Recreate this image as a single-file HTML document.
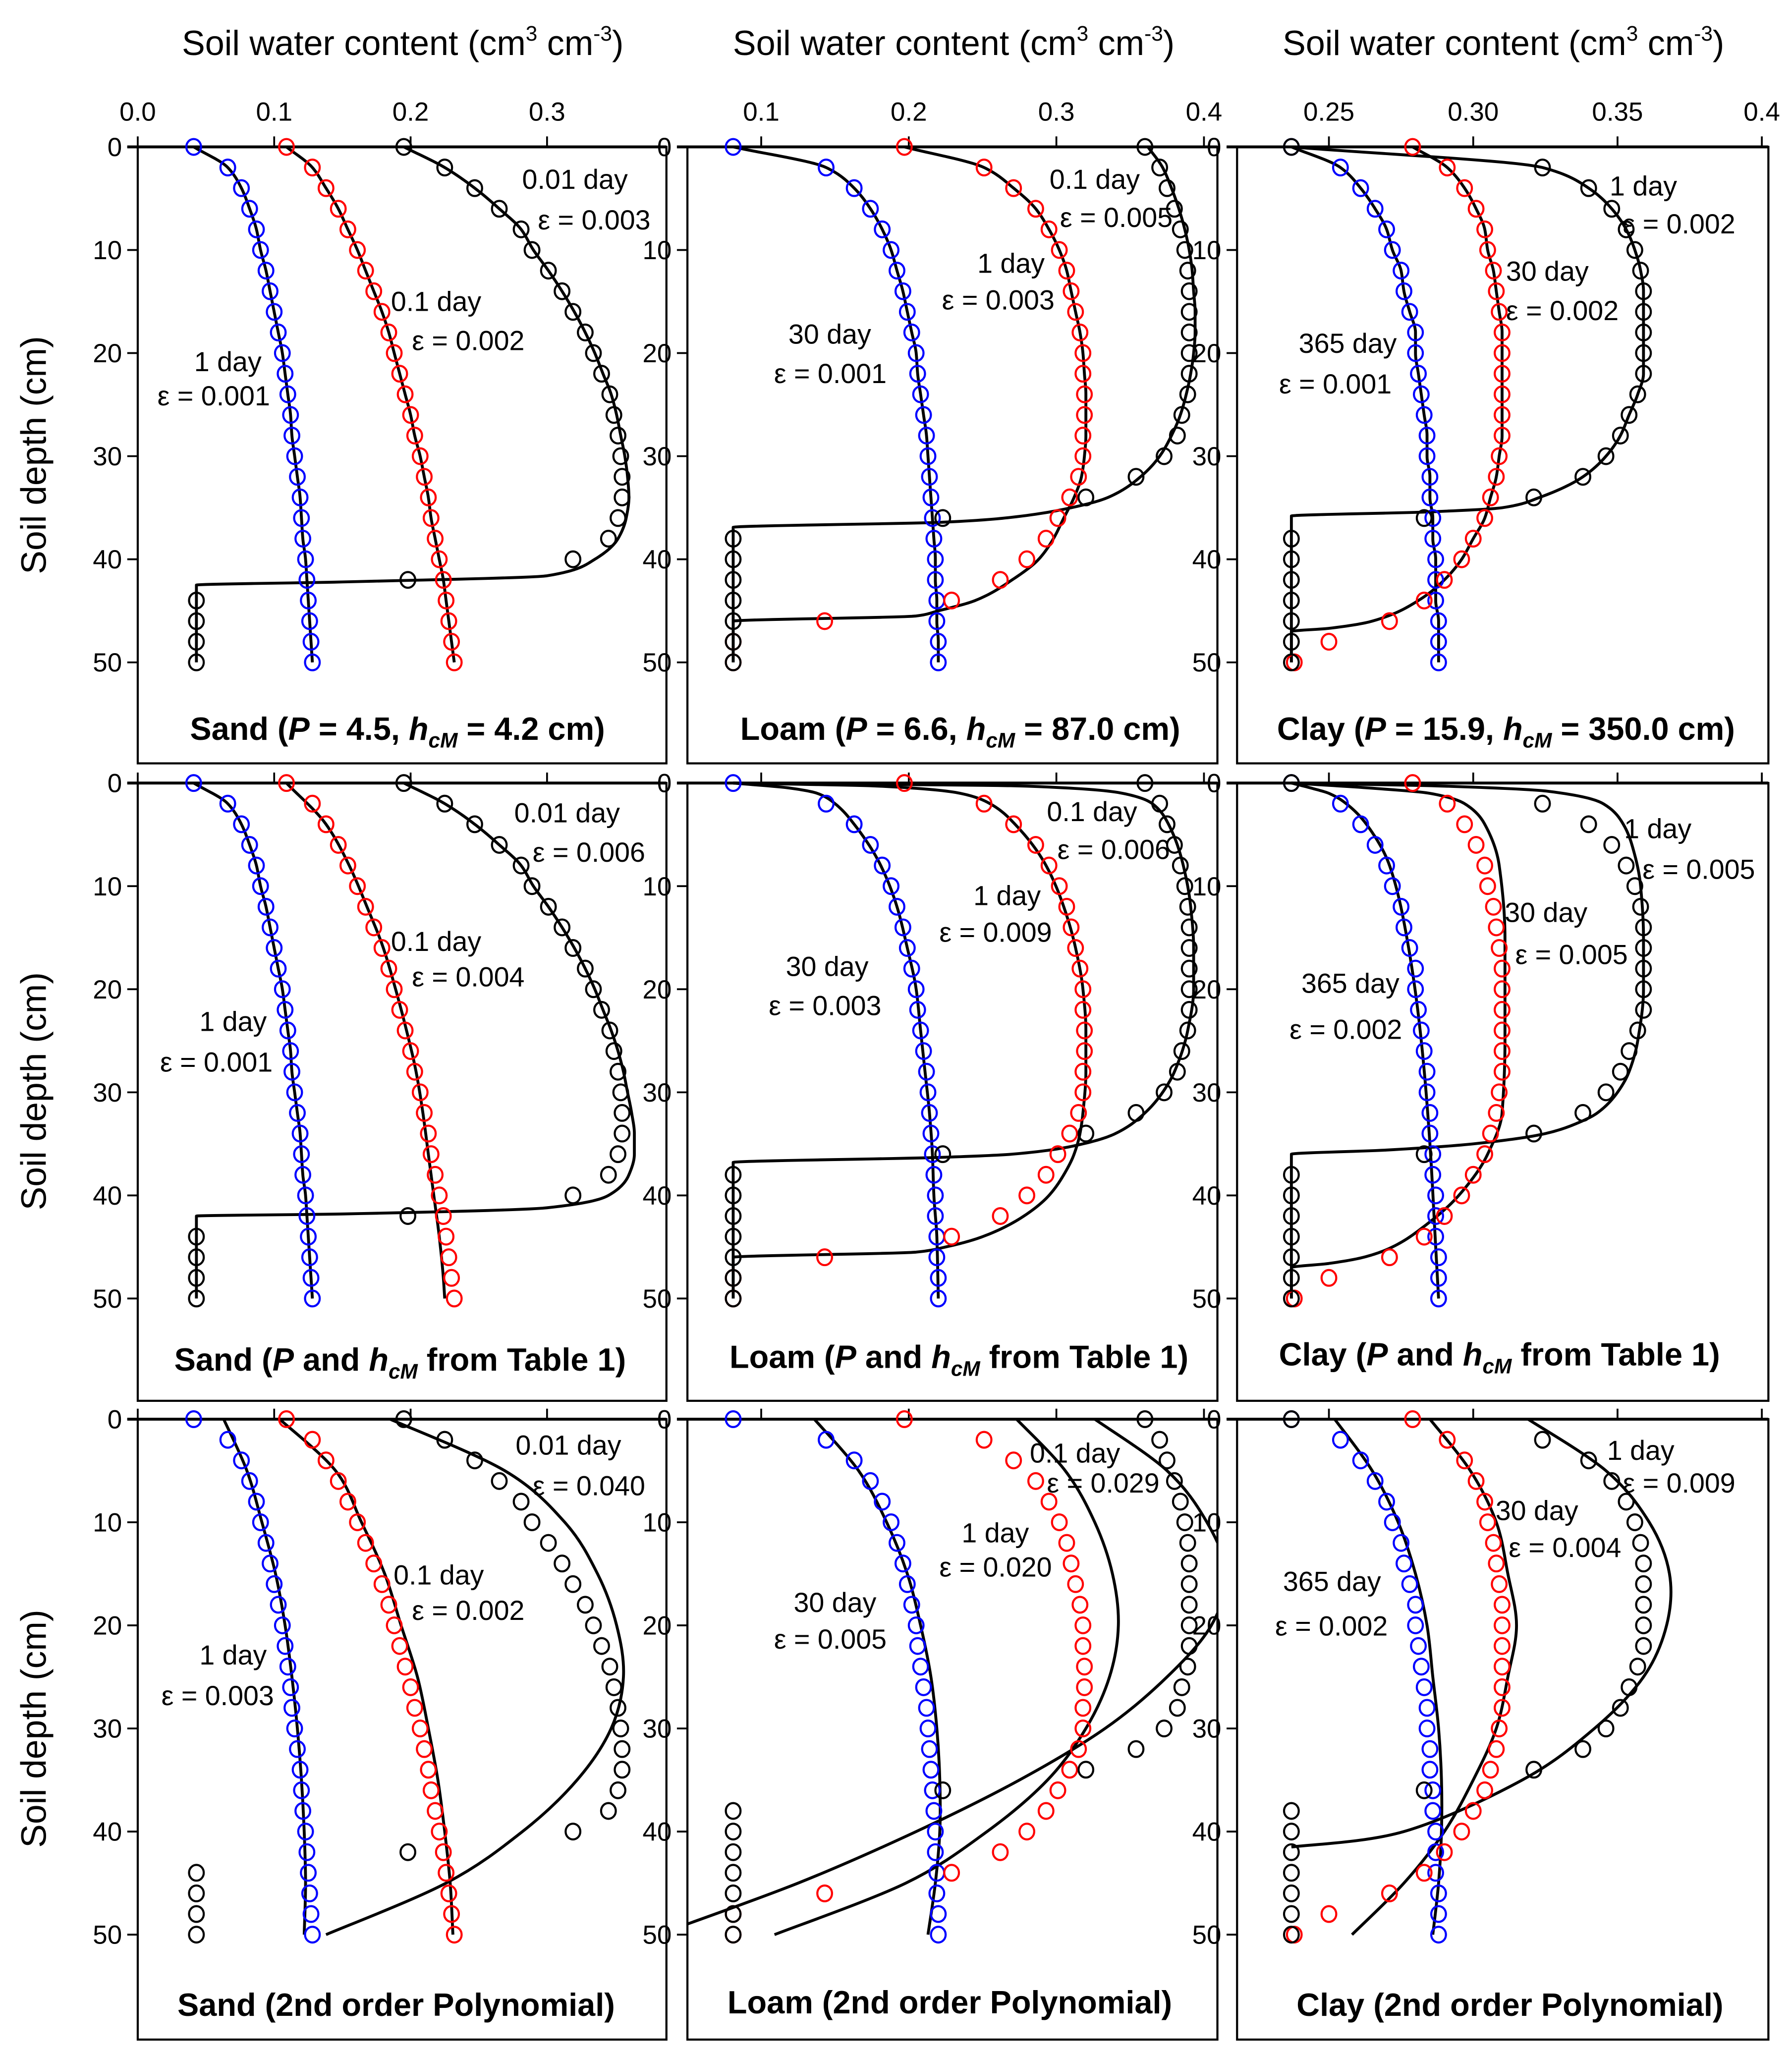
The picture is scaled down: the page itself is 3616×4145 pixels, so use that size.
<!DOCTYPE html>
<html><head><meta charset="utf-8"><style>
html,body{margin:0;padding:0;background:#fff}
svg{display:block}
text{font-family:"Liberation Sans",Arial,sans-serif;fill:#000}
</style></head><body>
<svg id="chart" width="3616" height="4145" viewBox="0 0 1366 1566" preserveAspectRatio="none" xmlns="http://www.w3.org/2000/svg"></svg>
<script>
// ---- observed data (depth in cm, theta in cm3/cm3) ----
const depths = [0,2,4,6,8,10,12,14,16,18,20,22,24,26,28,30,32,34,36,38,40,42,44,46,48,50];
const sandBlue = [.041,.066,.076,.082,.087,.090,.094,.097,.100,.103,.106,.108,.110,.112,.113,.115,.117,.119,.120,.121,.123,.124,.125,.126,.127,.128];
const sandRed = [.109,.128,.138,.147,.154,.161,.167,.173,.179,.184,.188,.192,.196,.200,.203,.207,.210,.213,.215,.218,.221,.224,.226,.228,.230,.232];
const sandBlack = [.195,.225,.247,.265,.281,.289,.301,.311,.319,.328,.334,.340,.346,.349,.352,.354,.355,.355,.352,.345,.319,.198,.043,.043,.043,.043];
const loamBlue = [.081,.144,.163,.174,.182,.188,.192,.196,.199,.202,.205,.206,.208,.210,.212,.213,.214,.215,.216,.217,.218,.218,.219,.219,.220,.220];
const loamRed = [.197,.251,.271,.286,.295,.302,.307,.310,.313,.316,.318,.318,.319,.319,.318,.318,.315,.309,.301,.293,.280,.262,.229,.143,.081,.081];
const loamBlack = [.360,.370,.375,.380,.384,.387,.389,.390,.390,.390,.390,.390,.389,.385,.382,.373,.354,.320,.223,.081,.081,.081,.081,.081,.081,.081];
const clayBlue = [.237,.254,.261,.266,.270,.272,.275,.276,.278,.280,.280,.281,.282,.283,.284,.284,.285,.285,.286,.286,.287,.287,.287,.288,.288,.288];
const clayRed = [.279,.291,.297,.301,.304,.305,.307,.308,.309,.310,.310,.310,.310,.310,.310,.309,.308,.306,.304,.300,.296,.290,.283,.271,.250,.238];
const clayBlack = [.237,.324,.340,.348,.353,.356,.358,.359,.359,.359,.359,.359,.357,.354,.351,.346,.338,.321,.283,.237,.237,.237,.237,.237,.237,.237];

// ---- model lines ----
const r1SandBlackD = [0,2,4,6,8,10,12,14,16,18,20,22,24,26,28,30,32,34,36,38,40,41.6,42.2,42.5,50];
const r1SandBlackT = [.195,.225,.247,.265,.281,.290,.301,.311,.320,.328,.335,.341,.347,.351,.354,.357,.359,.360,.358,.352,.335,.30,.15,.043,.043];
const r1LoamRedD = [0,2,4,6,8,10,12,14,16,18,20,22,24,26,28,30,32,34,36,38,40,42,44,45,45.5,46,50];
const r1LoamRedT = [.197,.251,.271,.286,.295,.302,.307,.310,.313,.316,.318,.319,.320,.320,.320,.319,.317,.312,.305,.298,.288,.270,.245,.220,.205,.081,.081];
const r1LoamBlackD = [0,2,4,6,8,10,12,14,16,18,20,22,24,26,28,30,32,34,35,36,36.4,36.9,50];
const r1LoamBlackT = [.362,.372,.378,.383,.387,.390,.392,.393,.394,.394,.393,.391,.388,.384,.378,.370,.357,.335,.31,.265,.224,.081,.081];
const r1ClayRedD = [0,2,4,6,8,10,12,14,16,18,20,22,24,26,28,30,32,34,36,38,40,42,44,46,46.7,47,50];
const r1ClayRedT = [.279,.291,.297,.301,.304,.305,.307,.308,.309,.310,.310,.310,.310,.310,.310,.309,.308,.306,.304,.300,.296,.290,.281,.265,.250,.237,.237];
const r1ClayBlackD = [0,2,4,6,8,10,12,14,16,18,20,22,24,26,28,30,32,34,35,35.4,35.8,50];
const r1ClayBlackT = [.237,.324,.340,.348,.353,.356,.358,.359,.359,.359,.359,.359,.357,.354,.351,.346,.338,.323,.31,.285,.237,.237];
const r2SandBlackD = [0,2,4,6,8,10,12,14,16,18,20,22,24,26,28,30,32,34,36,38,40,41.2,41.8,42,50];
const r2SandBlackT = [.195,.225,.247,.265,.281,.290,.301,.311,.320,.328,.335,.341,.347,.352,.356,.359,.362,.364,.364,.360,.345,.30,.15,.043,.043];
const r2SandRedD = [0,4,8,12,16,20,24,28,32,36,40,44,48,50];
const r2SandRedT = [.109,.138,.155,.168,.180,.189,.197,.204,.209,.213,.217,.221,.224,.225];
const r2LoamBlueD = [0,0.5,1,2,4,8,12,16,20,24,28,32,36,40,44,50];
const r2LoamBlueT = [.081,.12,.138,.150,.163,.181,.192,.199,.205,.208,.211,.214,.216,.217,.219,.220];
const r2LoamRedD = [0,0.3,1,2,4,8,12,16,20,24,28,32,34,36,38,40,42,44,45,45.5,46,50];
const r2LoamRedT = [.081,.18,.235,.255,.272,.293,.305,.313,.318,.320,.320,.318,.316,.312,.305,.295,.278,.250,.225,.205,.081,.081];
const r2LoamBlackD = [0,0.3,1,2,4,8,12,16,20,24,28,30,32,34,35,36,36.3,36.8,50];
const r2LoamBlackT = [.081,.28,.345,.365,.376,.386,.391,.393,.393,.389,.380,.372,.360,.340,.318,.27,.224,.081,.081];
const r2ClayBlueD = [0,0.5,1,2,4,8,15,25,35,45,50];
const r2ClayBlueT = [.237,.244,.250,.256,.263,.271,.277,.282,.285,.287,.288];
const r2ClayRedD = [0,0.5,1,2,4,8,15,25,32,36,40,43,45,46,46.6,47,50];
const r2ClayRedT = [.237,.265,.285,.297,.304,.309,.311,.311,.310,.305,.295,.283,.272,.262,.25,.237,.237];
const r2ClayBlackD = [0,0.3,0.8,2,4,6,10,15,20,25,28,30,32,33,34,35,35.6,36,50];
const r2ClayBlackT = [.237,.29,.326,.345,.352,.355,.358,.359,.359,.357,.354,.350,.343,.336,.325,.30,.27,.237,.237];
const polyD = [0,5,10,15,20,25,30,35,40,45,50];
const r3SandBlueT = [.063,.080,.091,.101,.108,.113,.117,.120,.122,.123,.122];
const r3SandRedT = [.104,.145,.164,.181,.193,.205,.213,.220,.225,.229,.231];
const r3SandBlackT = [.185,.269,.313,.337,.351,.356,.347,.322,.282,.226,.138];
const r3LoamBlueT = [.136,.166,.185,.199,.208,.215,.219,.221,.221,.218,.213];
const r3LoamRedT = [.273,.306,.326,.338,.342,.336,.320,.294,.253,.198,.109];
const r3LoamBlackT = [.326,.375,.402,.415,.405,.375,.333,.275,.205,.125,.030];
const r3ClayBlueT = [.252,.265,.274,.280,.284,.286,.288,.289,.289,.288,.286];
const r3ClayRedT = [.285,.299,.308,.312,.315,.312,.308,.300,.290,.276,.258];
const r3ClayBlackD = [0,5,10,15,20,25,30,35,40,41.5];
const r3ClayBlackT = [.319,.346,.361,.368,.367,.359,.342,.317,.276,.237];

// ---- ticks / labels ----
const xTicks = [[0.0,0.1,0.2,0.3],[0.1,0.2,0.3,0.4],[0.25,0.30,0.35,0.4]];
const xTickLabels = [["0.0","0.1","0.2","0.3"],["0.1","0.2","0.3","0.4"],["0.25","0.30","0.35","0.4"]];
const yTicks = [0,10,20,30,40,50];

const svg = document.getElementById('chart');
const NS = 'http://www.w3.org/2000/svg';
const colX0 = [105,524,943], colX1 = [508,928,1348];
const rowY0 = [112,597,1082], rowY1 = [582,1068,1555];
const xFns = [t=>105+t*1040, t=>524+(t-0.05)*1125, t=>1013+(t-0.25)*2200];
const yFn = (r,d)=>rowY0[r]+d*7.86;

function el(tag, attrs, parent){const e=document.createElementNS(NS,tag);for(const k in attrs)e.setAttribute(k,attrs[k]);(parent||svg).appendChild(e);return e;}
// monotone cubic (Fritsch-Carlson) of theta vs depth, sampled
function monoSamples(D,T){
  const n=D.length, m=[], dl=[];
  for(let i=0;i<n-1;i++) dl.push((T[i+1]-T[i])/(D[i+1]-D[i]));
  for(let i=0;i<n;i++){
    if(i===0) m.push(dl[0]); else if(i===n-1) m.push(dl[n-2]);
    else if(dl[i-1]*dl[i]<=0) m.push(0);
    else { const h0=D[i]-D[i-1],h1=D[i+1]-D[i],w1=2*h1+h0,w2=h1+2*h0; m.push((w1+w2)/(w1/dl[i-1]+w2/dl[i])); }
  }
  const out=[];
  for(let i=0;i<n-1;i++){
    const h=D[i+1]-D[i];
    for(let k=0;k<16;k++){
      const s=k/16, s2=s*s, s3=s2*s;
      const v=(2*s3-3*s2+1)*T[i]+(s3-2*s2+s)*h*m[i]+(-2*s3+3*s2)*T[i+1]+(s3-s2)*h*m[i+1];
      out.push([D[i]+s*h,v]);
    }
  }
  out.push([D[n-1],T[n-1]]);
  return out;
}
// smooth catmull-rom path (for polynomial curves)
function smoothPath(pts){
  let d='M'+pts[0][0].toFixed(2)+','+pts[0][1].toFixed(2);
  for(let i=0;i<pts.length-1;i++){
    const p0=pts[i-1]||pts[i],p1=pts[i],p2=pts[i+1],p3=pts[i+2]||p2;
    const c1=[p1[0]+(p2[0]-p0[0])/6,p1[1]+(p2[1]-p0[1])/6];
    const c2=[p2[0]-(p3[0]-p1[0])/6,p2[1]-(p3[1]-p1[1])/6];
    d+=' C'+c1[0].toFixed(2)+','+c1[1].toFixed(2)+' '+c2[0].toFixed(2)+','+c2[1].toFixed(2)+' '+p2[0].toFixed(2)+','+p2[1].toFixed(2);
  }
  return d;
}

const defs = el('defs',{});
[307,727,1146].forEach((cx,c)=>{
  const t=el('text',{x:cx,y:42,'text-anchor':'middle','font-size':26.5});
  
  
  t.innerHTML='Soil water content (cm<tspan dy="-11" font-size="16">3</tspan><tspan dy="11"> cm</tspan><tspan dy="-11" font-size="16">-3</tspan><tspan dy="11">)</tspan>';
});
[347,832,1318].forEach((cy,r)=>{
  const t=el('text',{x:0,y:0,'text-anchor':'middle','font-size':27,transform:'translate(35,'+cy+') rotate(-90)'});
  
  
  t.textContent='Soil depth (cm)';
});

const annotations = [
 [[[398,137,'0.01 day'],[410,168,'ε = 0.003'],[298,230,'0.1 day'],[314,260,'ε = 0.002'],[148,276,'1 day'],[120,302,'ε = 0.001']],
  [[800,137,'0.1 day'],[808,166,'ε = 0.005'],[745,201,'1 day'],[718,229,'ε = 0.003'],[601,255,'30 day'],[590,285,'ε = 0.001']],
  [[1227,142,'1 day'],[1237,171,'ε = 0.002'],[1148,207,'30 day'],[1148,237,'ε = 0.002'],[990,262,'365 day'],[975,293,'ε = 0.001']]],
 [[[392,620,'0.01 day'],[406,650,'ε = 0.006'],[298,718,'0.1 day'],[314,745,'ε = 0.004'],[152,779,'1 day'],[122,810,'ε = 0.001']],
  [[798,619,'0.1 day'],[806,648,'ε = 0.006'],[742,683,'1 day'],[716,711,'ε = 0.009'],[599,737,'30 day'],[586,767,'ε = 0.003']],
  [[1238,632,'1 day'],[1252,663,'ε = 0.005'],[1147,696,'30 day'],[1155,728,'ε = 0.005'],[992,750,'365 day'],[983,785,'ε = 0.002']]],
 [[[393,1102,'0.01 day'],[406,1133,'ε = 0.040'],[300,1201,'0.1 day'],[314,1228,'ε = 0.002'],[152,1262,'1 day'],[123,1293,'ε = 0.003']],
  [[785,1108,'0.1 day'],[798,1131,'ε = 0.029'],[733,1169,'1 day'],[716,1195,'ε = 0.020'],[605,1222,'30 day'],[590,1250,'ε = 0.005']],
  [[1225,1106,'1 day'],[1237,1131,'ε = 0.009'],[1140,1152,'30 day'],[1150,1180,'ε = 0.004'],[978,1206,'365 day'],[972,1240,'ε = 0.002']]]
];
const sub = (s)=>'<tspan font-style="italic">h</tspan><tspan font-style="italic" font-size="16" dy="6">cM</tspan><tspan dy="-6">'+s+'</tspan>';
const panelTitles = [
 ['Sand (<tspan font-style="italic">P</tspan> = 4.5, '+sub(' = 4.2 cm)'),
  'Loam (<tspan font-style="italic">P</tspan> = 6.6, '+sub(' = 87.0 cm)'),
  'Clay (<tspan font-style="italic">P</tspan> = 15.9, '+sub(' = 350.0 cm)')],
 ['Sand (<tspan font-style="italic">P</tspan> and '+sub(' from Table 1)'),
  'Loam (<tspan font-style="italic">P</tspan> and '+sub(' from Table 1)'),
  'Clay (<tspan font-style="italic">P</tspan> and '+sub(' from Table 1)')],
 ['Sand (2nd order Polynomial)','Loam (2nd order Polynomial)','Clay (2nd order Polynomial)']
];
const titlePos = [[[303,556],[732,556],[1148,556]],[[305,1037],[731,1035],[1143,1033]],[[302,1529],[724,1527],[1151,1529]]];

const obs = [[sandBlue,sandRed,sandBlack],[loamBlue,loamRed,loamBlack],[clayBlue,clayRed,clayBlack]];
const colors = ['#0000ff','#ff0000','#000000'];
const seriesNames = [['1-day','0.1-day','0.01-day'],['30-day','1-day','0.1-day'],['365-day','30-day','1-day']];
const soils = ['sand','loam','clay'];
const lines = [
 [[[depths,sandBlue],[depths,sandRed],[r1SandBlackD,r1SandBlackT]],
  [[depths,loamBlue],[r1LoamRedD,r1LoamRedT],[r1LoamBlackD,r1LoamBlackT]],
  [[depths,clayBlue],[r1ClayRedD,r1ClayRedT],[r1ClayBlackD,r1ClayBlackT]]],
 [[[depths,sandBlue],[r2SandRedD,r2SandRedT],[r2SandBlackD,r2SandBlackT]],
  [[r2LoamBlueD,r2LoamBlueT],[r2LoamRedD,r2LoamRedT],[r2LoamBlackD,r2LoamBlackT]],
  [[r2ClayBlueD,r2ClayBlueT],[r2ClayRedD,r2ClayRedT],[r2ClayBlackD,r2ClayBlackT]]],
 [[[polyD,r3SandBlueT],[polyD,r3SandRedT],[polyD,r3SandBlackT]],
  [[polyD,r3LoamBlueT],[polyD,r3LoamRedT],[polyD,r3LoamBlackT]],
  [[polyD,r3ClayBlueT],[polyD,r3ClayRedT],[r3ClayBlackD,r3ClayBlackT]]]
];

for(let r=0;r<3;r++){
 for(let c=0;c<3;c++){
  const x0=colX0[c],x1=colX1[c],y0=rowY0[r],y1=rowY1[r],xf=xFns[c];
  const g=el('g',{});
  
  
  const cid='clip'+r+c;
  const cp=el('clipPath',{id:cid},defs);
  el('rect',{x:x0,y:y0-8,width:x1-x0,height:y1-y0+8},cp);
  const fr=el('rect',{x:x0,y:y0,width:x1-x0,height:y1-y0,fill:'none',stroke:'#000','stroke-width':1.6},g);
  
  
  const ta=el('line',{x1:x0-8,y1:y0,x2:x1,y2:y0,stroke:'#000','stroke-width':2.2},g);
  
  
  xTicks[c].forEach((v,i)=>{
   const xp=xf(v);
   const tk=el('line',{x1:xp,y1:y0,x2:xp,y2:y0-8,stroke:'#000','stroke-width':1.4},g);
   
   
   if(r===0){
    const tl=el('text',{x:xp,y:92,'text-anchor':'middle','font-size':20},g);
    
    
    tl.textContent=xTickLabels[c][i];
   }
  });
  yTicks.forEach(v=>{
   const yp=yFn(r,v);
   const tk=el('line',{x1:x0-8,y1:yp,x2:x0,y2:yp,stroke:'#000','stroke-width':1.4},g);
   
   
   const tl=el('text',{x:x0-12,y:yp+7,'text-anchor':'end','font-size':20},g);
   
   
   tl.textContent=String(v);
  });
  const lg=el('g',{'clip-path':'url(#'+cid+')'},g);
  lines[r][c].forEach((ln,s)=>{
   let d;
   if(r===2){
    const pts=ln[0].map((dd,i)=>[xf(ln[1][i]),yFn(r,dd)]);
    d=smoothPath(pts);
   } else {
    const pts=monoSamples(ln[0],ln[1]).map(p=>[xf(p[1]),yFn(r,p[0])]);
    d='M'+pts.map(p=>p[0].toFixed(2)+','+p[1].toFixed(2)).join(' L');
   }
   const p=el('path',{d:d,fill:'none',stroke:'#000','stroke-width':2.2,'stroke-linejoin':'round'},lg);
   
   
  });
  obs[c].forEach((arr,s)=>{
   arr.forEach((v,i)=>{
    const ci=el('ellipse',{cx:xf(v),cy:yFn(r,depths[i]),rx:5.6,ry:6,fill:'none',stroke:colors[s],'stroke-width':1.6},g);
    
    
   });
  });
  annotations[r][c].forEach(a=>{
   const t=el('text',{x:a[0],y:a[1]+7,'font-size':21},g);
   
   
   t.textContent=a[2];
  });
  const tt=el('text',{x:titlePos[r][c][0],y:titlePos[r][c][1]+8,'text-anchor':'middle','font-size':24.5,'font-weight':'bold'},g);
  
  
  tt.innerHTML=panelTitles[r][c];
 }
}
</script>
</body></html>
